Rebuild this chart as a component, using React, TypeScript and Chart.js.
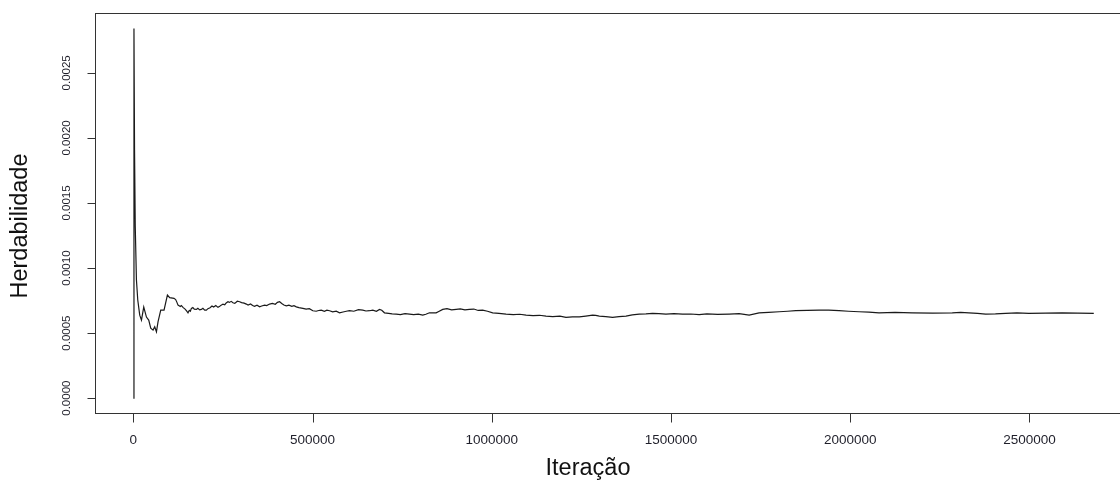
import React, { useEffect, useRef } from "react";
import { Chart, registerables } from "chart.js";

Chart.register(...registerables);

// Iteration number of each trace point (main read-off points)
const iterations: number[] = [
  0, 1700, 3300, 5300, 8600, 12300, 17800, 22600, 29000, 36500,
  42900, 48500, 54900, 59600, 64400, 68800, 76400, 85600, 95000, 101400,
  113400, 124600, 138500, 152400, 161900, 175900, 189800, 203700, 219300, 236100,
  250000, 263900, 277900, 296500, 315200, 332800, 352300, 366200, 380100, 408000,
  426700, 454600, 473000, 500800, 524200, 547400, 575200, 603100, 640200, 658900,
  686700, 700600, 733300, 770300, 807400, 826100, 844700, 863100, 900500, 937500,
  974600, 1002500, 1039800, 1095600, 1151300, 1207000, 1244100, 1281200, 1299900, 1336900,
  1374300, 1411300, 1448400, 1485800, 1532000, 1578500, 1662100, 1717900, 1745700, 1801500,
  1848000, 1913000, 1968700, 2024500, 2080200, 2173000, 2284500, 2331000, 2377600, 2433300,
  2498300, 2591100, 2679400,
];

// Running heritability estimate (main read-off points)
const herdabilidade: number[] = [
  0.0, 0.00284, 0.00191, 0.00132, 0.000908, 0.000754, 0.000638, 0.0006, 0.0007, 0.000623,
  0.0006, 0.000538, 0.000523, 0.000548, 0.00051, 0.000587, 0.000677, 0.000677, 0.000792, 0.000772,
  0.000767, 0.000715, 0.000698, 0.000656, 0.00069, 0.000682, 0.000682, 0.000677, 0.000708, 0.000698,
  0.000723, 0.000741, 0.000733, 0.000741, 0.000723, 0.000712, 0.000702, 0.000715, 0.000723, 0.000741,
  0.00071, 0.000702, 0.00069, 0.000672, 0.000677, 0.000672, 0.000656, 0.000672, 0.000677, 0.000672,
  0.000682, 0.000656, 0.000646, 0.000646, 0.000638, 0.000656, 0.000656, 0.000682, 0.000682, 0.000682,
  0.000677, 0.000656, 0.000646, 0.000638, 0.000631, 0.000621, 0.000625, 0.000638, 0.000631, 0.000621,
  0.000631, 0.000646, 0.000652, 0.000646, 0.000646, 0.000642, 0.000646, 0.000638, 0.000656, 0.000664,
  0.000672, 0.000677, 0.000672, 0.000664, 0.000656, 0.000656, 0.000656, 0.000656, 0.000646, 0.000652,
  0.000652, 0.000656, 0.000652,
];

// Extra read-off points for the small wiggles of the trace
const iterationsFine: number[] = [
  118000, 121000, 131000, 134000, 145000, 149000, 156000, 159000, 166000, 170000,
  180000, 185000, 194000, 199000, 208000, 214000, 224000, 230000, 241000, 245000,
  255000, 259000, 268000, 273000, 283000, 290000, 302000, 309000, 320000, 327000,
  338000, 345000, 358000, 372000, 388000, 396000, 402000, 414000, 420000, 434000,
  442000, 448000, 462000, 482000, 491000, 510000, 517000, 533000, 540000, 556000,
  566000, 585000, 594000, 615000, 628000, 649000, 668000, 678000, 693000, 712000,
  722000, 745000, 758000, 782000, 795000, 816000, 852000, 875000, 888000, 912000,
  925000, 950000, 962000, 988000, 1020000, 1060000, 1078000, 1115000, 1133000, 1170000,
  1190000, 1225000, 1262000, 1290000, 1318000, 1355000, 1392000, 1430000, 1466000, 1508000,
  1555000, 1600000, 1630000, 1690000, 1772000, 1825000, 1880000, 1940000, 1995000, 2052000,
  2125000, 2230000, 2308000, 2355000, 2405000, 2465000, 2545000, 2635000,
];

const herdabilidadeFine: number[] = [
  0.000758, 0.00074, 0.000705, 0.000712, 0.000682, 0.000668, 0.000675, 0.000668, 0.000696, 0.000684,
  0.00069, 0.000678, 0.00069, 0.000676, 0.000688, 0.000695, 0.0007, 0.000712, 0.000706, 0.000715,
  0.000718, 0.000732, 0.000736, 0.000744, 0.000728, 0.000745, 0.000734, 0.00073, 0.000716, 0.000724,
  0.000706, 0.000715, 0.000708, 0.000712, 0.000728, 0.000722, 0.000736, 0.000728, 0.000716, 0.000715,
  0.000706, 0.000711, 0.000696, 0.000684, 0.000688, 0.000668, 0.000674, 0.000668, 0.000676, 0.000664,
  0.000668, 0.000662, 0.000668, 0.000668, 0.00068, 0.00067, 0.000676, 0.000668, 0.000676, 0.000652,
  0.000648, 0.000642, 0.000649, 0.000642, 0.000646, 0.000645, 0.000666, 0.000688, 0.000678, 0.000686,
  0.000678, 0.000685, 0.000674, 0.000668, 0.000652, 0.000642, 0.000645, 0.000634, 0.000637, 0.000627,
  0.00063, 0.000624, 0.000631, 0.000636, 0.000626, 0.000626, 0.00064, 0.000648, 0.000649, 0.00065,
  0.000647, 0.000648, 0.000644, 0.000649, 0.00066, 0.000668, 0.000674, 0.000676, 0.000668, 0.000661,
  0.00066, 0.000653, 0.000659, 0.000651, 0.000648, 0.000655, 0.000654, 0.000653,
];

const xTicks: number[] = [0, 500000, 1000000, 1500000, 2000000, 2500000];
const xTickLabels: string[] = ["0", "500000", "1000000", "1500000", "2000000", "2500000"];
const yTicks: number[] = [0, 0.0005, 0.001, 0.0015, 0.002, 0.0025];
const yTickLabels: string[] = ["0.0000", "0.0005", "0.0010", "0.0015", "0.0020", "0.0025"];

const xTitle = "Iteração";
const yTitle = "Herdabilidade";

const W = 1140;
const H = 484;

const axesPlugin = {
  id: "rAxes",
  afterDraw(chart: any) {
    const { ctx, chartArea } = chart;
    const xs = chart.scales.x;
    const ys = chart.scales.y;
    ctx.save();
    ctx.strokeStyle = "#333";
    ctx.lineWidth = 1;
    ctx.strokeRect(
      Math.round(chartArea.left) + 0.5,
      Math.round(chartArea.top) + 0.5,
      Math.round(chartArea.right - chartArea.left),
      Math.round(chartArea.bottom - chartArea.top)
    );
    const bottom = Math.round(chartArea.bottom) + 0.5;
    ctx.beginPath();
    xTicks.forEach((v) => {
      const px = Math.round(xs.getPixelForValue(v)) + 0.5;
      ctx.moveTo(px, bottom);
      ctx.lineTo(px, bottom + 9);
    });
    const left = Math.round(chartArea.left) + 0.5;
    yTicks.forEach((v) => {
      const py = Math.round(ys.getPixelForValue(v)) + 0.5;
      ctx.moveTo(left, py);
      ctx.lineTo(left - 8, py);
    });
    ctx.stroke();

    ctx.fillStyle = "#1f1f2a";
    ctx.textAlign = "center";
    ctx.textBaseline = "middle";
    ctx.font = "13.5px 'Liberation Sans', Arial, sans-serif";
    xTicks.forEach((v, i) => {
      ctx.fillText(xTickLabels[i], xs.getPixelForValue(v), chartArea.bottom + 27);
    });
    ctx.font = "11.5px 'Liberation Sans', Arial, sans-serif";
    yTicks.forEach((v, i) => {
      ctx.save();
      ctx.translate(left - 29, ys.getPixelForValue(v));
      ctx.rotate(-Math.PI / 2);
      ctx.fillText(yTickLabels[i], 0, 0);
      ctx.restore();
    });

    ctx.fillStyle = "#111";
    ctx.font = "23.5px 'Liberation Sans', Arial, sans-serif";
    ctx.fillText(xTitle, 588, 469);
    ctx.save();
    ctx.translate(21, 226);
    ctx.rotate(-Math.PI / 2);
    ctx.fillText(yTitle, 0, 0);
    ctx.restore();
    ctx.restore();
  },
};

export default function App() {
  const ref = useRef<HTMLCanvasElement | null>(null);
  useEffect(() => {
    if (!ref.current) return;
    const points = iterations
      .map((it, i) => ({ x: it, y: herdabilidade[i] }))
      .concat(iterationsFine.map((it, i) => ({ x: it, y: herdabilidadeFine[i] })))
      .sort((a, b) => a.x - b.x);
    const chart = new Chart(ref.current, {
      type: "line",
      data: {
        datasets: [
          {
            data: points,
            borderColor: "#1a1a1a",
            borderWidth: 1.2,
            pointRadius: 0,
            tension: 0,
            fill: false,
          },
        ],
      },
      options: {
        animation: false,
        responsive: false,
        devicePixelRatio: 1,
        parsing: false,
        layout: { padding: { left: 95, top: 13, right: 8, bottom: 71 } },
        plugins: { legend: { display: false }, tooltip: { enabled: false } },
        scales: {
          x: { type: "linear", min: -107000, max: 2786000, display: false },
          y: { type: "linear", min: -0.000114, max: 0.00296, display: false },
        },
      },
      plugins: [axesPlugin],
    });
    return () => chart.destroy();
  }, []);
  return (
    <div style={{ position: "fixed", left: 0, top: 0, width: W, height: H, overflow: "hidden", background: "#fff" }}>
      <canvas ref={ref} width={W} height={H} style={{ width: W, height: H, display: "block" }} />
    </div>
  );
}
